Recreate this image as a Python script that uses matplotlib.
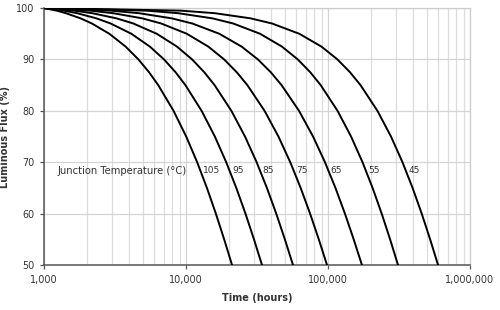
import matplotlib
matplotlib.use("Agg")
import matplotlib.pyplot as plt
from matplotlib.ticker import FixedLocator, LogLocator, NullFormatter

# luminous flux levels (%) where each curve was read
levels = [100, 99.5, 99, 98, 97, 95, 92.5, 90, 87.5, 85, 80, 75, 70, 65, 60, 55, 50]

# hours at which each junction-temperature curve reaches the level above
junction_temps = ["105", "95", "85", "75", "65", "55", "45"]
hours_105 = [1000, 1227, 1428, 1808, 2173, 2884, 3757, 4626, 5497, 6377,
             8173, 10036, 11987, 14043, 16230, 18570, 21100]
hours_95 = [1000, 1377, 1710, 2338, 2944, 4122, 5568, 7008, 8451, 9909,
            12884, 15971, 19202, 22608, 26232, 30109, 34300]
hours_85 = [1000, 1630, 2187, 3238, 4252, 6222, 8640, 11049, 13463, 15901,
            20878, 26041, 31447, 37143, 43205, 49690, 56700]
hours_75 = [1000, 2102, 3076, 4914, 6686, 10131, 14360, 18572, 22793, 27057,
            35759, 44789, 54241, 64201, 74802, 86142, 98400]
hours_65 = [1000, 2951, 4674, 7928, 11064, 17162, 24648, 32103, 39573, 47121,
            62524, 78507, 95237, 112868, 131630, 151704, 173400]
hours_55 = [1000, 5265, 8816, 15332, 21489, 33230, 47398, 61288, 75076, 88880,
            116775, 145387, 175064, 206108, 238886, 273767, 311200]
hours_45 = [1000, 9176, 15984, 28476, 40280, 62789, 89951, 116581, 143015, 169478,
            222958, 277811, 334706, 394223, 457064, 523936, 595700]
curves = [hours_105, hours_95, hours_85, hours_75, hours_65, hours_55, hours_45]

x_ticks = [1000, 10000, 100000, 1000000]
x_tick_labels = ["1,000", "10,000", "100,000", "1,000,000"]
y_ticks = [50, 60, 70, 80, 90, 100]

txt = "#333333"
plt.rcParams["font.family"] = ["DejaVu Sans"]

fig = plt.figure(figsize=(5.0, 3.1), dpi=100)
ax = fig.add_axes([0.088, 0.145, 0.852, 0.829])

for hrs in curves:
    ax.plot(hrs, levels, color="black", lw=1.4, solid_capstyle="round",
            solid_joinstyle="round", zorder=3)

ax.set_xscale("log")
ax.set_xlim(1000, 1000000)
ax.set_ylim(50, 100)

ax.xaxis.set_major_locator(FixedLocator(x_ticks))
ax.set_xticklabels(x_tick_labels)
ax.xaxis.set_minor_locator(LogLocator(base=10, subs=range(2, 10)))
ax.xaxis.set_minor_formatter(NullFormatter())
ax.set_yticks(y_ticks)

ax.grid(True, which="major", color="#d4d4d4", lw=0.9, zorder=0)
ax.grid(True, which="minor", axis="x", color="#dcdcdc", lw=0.9, zorder=0)

ax.tick_params(axis="both", which="major", labelsize=6.9, labelcolor=txt,
               color="#555555", length=3, width=0.9, pad=4)
ax.tick_params(axis="x", which="minor", length=0)

for side in ["left", "bottom"]:
    ax.spines[side].set_color("#555555")
    ax.spines[side].set_linewidth(1.1)
for side in ["top", "right"]:
    ax.spines[side].set_color("#cccccc")
    ax.spines[side].set_linewidth(0.9)

ax.set_xlabel("Time (hours)", fontsize=7, fontweight="bold", color=txt, labelpad=6)
ax.set_ylabel("Luminous Flux (%)", fontsize=7, fontweight="bold", color=txt, labelpad=4)

# legend text along the 70 % gridline
ax.text(1235, 68.3, "Junction Temperature (\u00b0C)", fontsize=7.2, color=txt,
        ha="left", va="center", zorder=4)
i70 = levels.index(70)
for temp, hrs in zip(junction_temps, curves):
    ax.text(hrs[i70] * 1.1, 68.3, temp, fontsize=6.5, color=txt,
            ha="left", va="center", zorder=4)

fig.savefig("out.png", dpi=100)
